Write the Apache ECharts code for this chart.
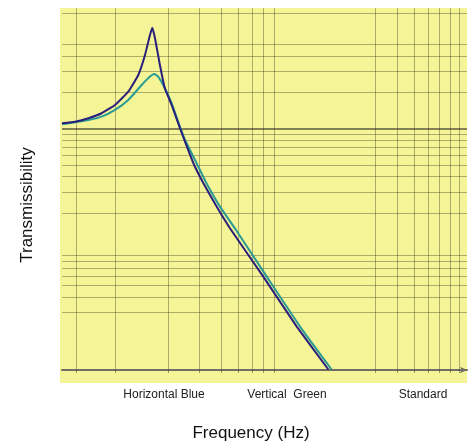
<!DOCTYPE html>
<html>
<head>
<meta charset="utf-8">
<script src="https://cdn.jsdelivr.net/npm/echarts@6/dist/echarts.min.js"></script>
<style>
  html, body { margin: 0; padding: 0; background: #fff; }
  #main { width: 473px; height: 447px; }
</style>
</head>
<body>
<div id="main"></div>
<script>
// 水平方向 (深蓝)
const blueFreq = [0.5, 0.593, 0.706, 0.84, 1.0, 1.19, 1.357, 1.481, 1.581, 1.63, 1.688, 1.80, 1.92, 2.10, 2.34, 2.79, 3.18, 3.78, 4.50, 6.96, 10.78, 16.3];
const blueValues = [1.108, 1.143, 1.22, 1.342, 1.572, 2.026, 2.786, 4.08, 5.98, 6.87, 5.61, 3.37, 2.16, 1.57, 1.01, 0.517, 0.353, 0.226, 0.1495, 0.0594, 0.0229, 0.0101];
// 垂直方向 (绿)
const greenFreq = [0.5, 0.706, 0.84, 1.0, 1.19, 1.418, 1.581, 1.67, 1.76, 1.92, 2.10, 2.34, 2.50, 2.91, 3.31, 3.95, 4.87, 7.28, 11.25, 17.0];
const greenValues = [1.088, 1.18, 1.257, 1.429, 1.729, 2.30, 2.70, 2.84, 2.70, 2.16, 1.62, 1.04, 0.806, 0.517, 0.353, 0.226, 0.1447, 0.0594, 0.0229, 0.0101];
// 网格线位置
const gridFreq = [0.6, 1, 2, 3, 4, 5, 6, 7, 8, 30, 40, 50, 60, 70, 80, 90];
const gridTrans = [9, 5, 4, 3, 2, 0.9, 0.8, 0.7, 0.6, 0.5, 0.4, 0.3, 0.2, 0.09, 0.08, 0.07, 0.06, 0.05, 0.04, 0.03];
const unityLine = [1];
const bandLabels = ['Horizontal Blue', 'Vertical  Green', 'Standard'];
const bandLabelX = [164, 287, 423];

const chart = echarts.init(document.getElementById('main'));

const gridStyle = { color: 'rgba(60, 60, 40, 0.4)', width: 1, type: 'solid' };
const font = '"Liberation Sans", Arial, sans-serif';

let markLines = gridFreq.map(v => ({ xAxis: v, lineStyle: gridStyle }))
  .concat(gridTrans.map(v => ({ yAxis: v, lineStyle: gridStyle })))
  .concat(unityLine.map(v => ({ yAxis: v, lineStyle: { color: 'rgba(50, 50, 35, 0.6)', width: 2, type: 'solid' } })));

// 频段说明文字
let bandTexts = bandLabels.map((t, i) => ({
  type: 'text', silent: true,
  x: bandLabelX[i], y: 395,
  style: { text: t, font: '12px ' + font, fill: '#222', align: 'center', verticalAlign: 'middle' }
}));

let option = {
  animation: false,
  grid: { left: 62, right: 6, top: 8, bottom: 77 },
  graphic: [
    {
      type: 'rect', z: -10, silent: true,
      shape: { x: 60, y: 8, width: 407, height: 375 },
      style: { fill: '#f5f597' }
    },
    {
      type: 'text', silent: true,
      x: 251, y: 433,
      style: { text: 'Frequency (Hz)', font: '17px ' + font, fill: '#111', align: 'center', verticalAlign: 'middle' }
    },
    {
      type: 'text', silent: true,
      x: 27, y: 205, rotation: Math.PI / 2,
      style: { text: 'Transmissibility', font: '17px ' + font, fill: '#111', align: 'center', verticalAlign: 'middle' }
    }
  ].concat(bandTexts),
  xAxis: {
    type: 'log',
    logBase: 10,
    min: 0.5,
    max: 100,
    axisLine: {
      show: true,
      symbol: ['none', 'arrow'],
      symbolSize: [5, 7],
      lineStyle: { color: '#6e6e66', width: 2 }
    },
    axisTick: { show: true, customValues: gridFreq, length: 3, lineStyle: { color: 'rgba(60,60,40,0.5)' } },
    axisLabel: { show: false },
    splitLine: { show: false }
  },
  yAxis: {
    type: 'log',
    logBase: 10,
    min: 0.01,
    max: 10,
    axisLine: { show: false },
    axisTick: { show: false },
    axisLabel: { show: false },
    splitLine: { show: false }
  },
  series: [
    {
      name: 'Horizontal Blue',
      type: 'line',
      data: blueFreq.map((f, i) => [f, blueValues[i]]),
      showSymbol: false,
      smooth: 0.1,
      z: 3,
      lineStyle: { color: '#2b1f7c', width: 2 },
      markLine: {
        silent: true,
        symbol: ['none', 'none'],
        label: { show: false },
        animation: false,
        z: 1,
        data: markLines
      }
    },
    {
      name: 'Vertical Green',
      type: 'line',
      data: greenFreq.map((f, i) => [f, greenValues[i]]),
      showSymbol: false,
      smooth: 0.15,
      z: 2,
      lineStyle: { color: '#2a9b94', width: 2 }
    }
  ]
};
chart.setOption(option);
</script>
</body>
</html>
